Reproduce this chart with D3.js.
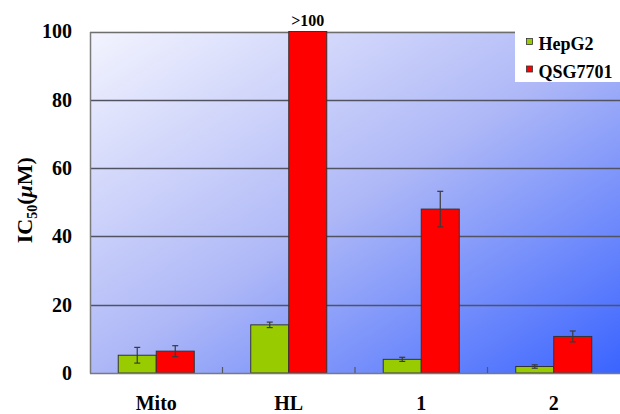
<!DOCTYPE html>
<html>
<head>
<meta charset="utf-8">
<script src="https://cdn.jsdelivr.net/npm/d3@7"></script>
<style>
  html, body { margin: 0; padding: 0; background: #fff; }
  svg { display: block; }
</style>
</head>
<body>
<svg id="chart" width="620" height="414"></svg>
<script>
// IC50 values (µM) for each compound on two cell lines
const categories = ["Mito", "HL", "1", "2"];
const seriesNames = ["HepG2", "QSG7701"];
const hepg2 = [5.2, 14.1, 4.0, 1.9];
const hepg2Err = [2.3, 0.8, 0.6, 0.5];
const qsg7701 = [6.4, 100, 48, 10.7];
const qsg7701Err = [1.6, 0, 5.2, 1.6];
const valueLabels = ["", ">100", "", ""];   // shown above the QSG7701 bar
const yTicks = [0, 20, 40, 60, 80, 100];
const colors = ["#99cc00", "#ff0000"];

const FONT = "\"Liberation Serif\", serif";

const svg = d3.select("#chart");
const W = 620, H = 414;
const margin = { left: 90, right: 0, top: 31.5, bottom: 41 };
const x0 = margin.left, x1 = W - margin.right;
const yTop = margin.top, yBot = H - margin.bottom;

const x = d3.scaleBand().domain(categories).range([x0, x1]).paddingInner(0).paddingOuter(0);
const xs = d3.scaleBand().domain(seriesNames).range([0, x.bandwidth()]).paddingInner(0).paddingOuter(0.743);
const y = d3.scaleLinear().domain([0, 100]).range([yBot, yTop]);

function serif(sel, size) {
  return sel.style("font-family", FONT).style("font-weight", "bold")
    .style("font-size", size + "px").attr("fill", "#000");
}

// plot background gradient
const defs = svg.append("defs");
const grad = defs.append("linearGradient").attr("id", "bg")
  .attr("x1", 0).attr("y1", 0).attr("x2", 1).attr("y2", 1);
grad.append("stop").attr("offset", "0").attr("stop-color", "#f3f4fe");
grad.append("stop").attr("offset", "0.5").attr("stop-color", "#aeb8f7");
grad.append("stop").attr("offset", "1").attr("stop-color", "#3a64ff");

svg.append("rect")
  .attr("x", x0).attr("y", yTop)
  .attr("width", x1 - x0).attr("height", yBot - yTop)
  .attr("fill", "url(#bg)");

// horizontal gridlines
svg.append("g").selectAll("line")
  .data(yTicks.filter(d => d > 0))
  .join("line")
  .attr("x1", x0).attr("x2", x1)
  .attr("y1", d => Math.round(y(d)) + 0.5).attr("y2", d => Math.round(y(d)) + 0.5)
  .attr("stroke", d => d === 100 ? "#6e6e6e" : "#515363")
  .attr("stroke-width", d => d === 100 ? 1.5 : 1.3);

// y axis: labels only, with a plain axis line
const yAxis = d3.axisLeft(y).tickValues(yTicks).tickSize(0).tickPadding(18);
const gy = svg.append("g").attr("transform", `translate(${x0},0)`).call(yAxis)
  .attr("font-family", null).attr("font-size", null);
gy.select(".domain").attr("stroke", "#7a7a7a").attr("stroke-width", 1.5);
serif(gy.selectAll("text"), 20);

// bars
const groups = svg.append("g").selectAll("g")
  .data(categories)
  .join("g")
  .attr("transform", d => `translate(${x(d)},0)`);

const barData = (c, i) => [
  { s: seriesNames[0], v: hepg2[i], e: hepg2Err[i], col: colors[0] },
  { s: seriesNames[1], v: qsg7701[i], e: qsg7701Err[i], col: colors[1] }
];

groups.each(function (c, i) {
  const g = d3.select(this);
  const data = barData(c, i);
  g.selectAll("rect").data(data).join("rect")
    .attr("x", d => xs(d.s))
    .attr("y", d => y(d.v))
    .attr("width", xs.bandwidth())
    .attr("height", d => y(0) - y(d.v))
    .attr("fill", d => d.col)
    .attr("stroke", "#333")
    .attr("stroke-width", 1);

  // error bars
  const eb = g.selectAll("g.err").data(data.filter(d => d.e > 0)).join("g").attr("class", "err");
  const cx = d => xs(d.s) + xs.bandwidth() / 2;
  eb.append("line")
    .attr("x1", cx).attr("x2", cx)
    .attr("y1", d => y(d.v + d.e)).attr("y2", d => y(d.v - d.e))
    .attr("stroke", "#3a3a3a").attr("stroke-width", 1.2);
  eb.append("line")
    .attr("x1", d => cx(d) - 3).attr("x2", d => cx(d) + 3)
    .attr("y1", d => y(d.v + d.e)).attr("y2", d => y(d.v + d.e))
    .attr("stroke", "#3a3a3a").attr("stroke-width", 1.2);
  eb.append("line")
    .attr("x1", d => cx(d) - 3).attr("x2", d => cx(d) + 3)
    .attr("y1", d => y(d.v - d.e)).attr("y2", d => y(d.v - d.e))
    .attr("stroke", "#3a3a3a").attr("stroke-width", 1.2);

  if (valueLabels[i]) {
    serif(g.append("text"), 16)
      .attr("x", xs(seriesNames[1]) + xs.bandwidth() / 2)
      .attr("y", y(qsg7701[i]) - 5.5)
      .attr("text-anchor", "middle")
      .text(valueLabels[i]);
  }
});

// x axis line with inward ticks between categories
svg.append("line")
  .attr("x1", x0).attr("x2", x1).attr("y1", yBot + 0.5).attr("y2", yBot + 0.5)
  .attr("stroke", "#7a7a7a").attr("stroke-width", 1.5);
svg.append("g").selectAll("line")
  .data(categories.slice(1))
  .join("line")
  .attr("x1", d => x(d)).attr("x2", d => x(d))
  .attr("y1", yBot).attr("y2", yBot - 6)
  .attr("stroke", "#55575f").attr("stroke-width", 1.2);

serif(svg.append("g").selectAll("text")
  .data(categories)
  .join("text"), 20)
  .attr("x", d => x(d) + x.bandwidth() / 2)
  .attr("y", 410)
  .attr("text-anchor", "middle")
  .text(d => d);

// y axis title: IC50(µM)
const yt = serif(svg.append("text"), 22)
  .attr("transform", `translate(32,${(yTop + yBot) / 2 - 2}) rotate(-90)`)
  .attr("text-anchor", "middle");
yt.append("tspan").text("IC");
yt.append("tspan").attr("dy", 5).style("font-size", "14px").text("50");
yt.append("tspan").attr("dy", -5).text("(");
yt.append("tspan").style("font-style", "italic").text("\u03bc");
yt.append("tspan").text("M)");

// legend
const lg = svg.append("g");
lg.append("rect").attr("x", 515).attr("y", 29).attr("width", 105).attr("height", 53).attr("fill", "#fff");
seriesNames.forEach((name, i) => {
  const yy = 38.5 + i * 27.5;
  lg.append("rect").attr("x", 526.5).attr("y", yy).attr("width", 6).attr("height", 6)
    .attr("fill", colors[i]).attr("stroke", "#333").attr("stroke-width", 0.8);
  serif(lg.append("text"), 18).attr("x", 538.5).attr("y", yy + 11.5)
    .text(name);
});
</script>
</body>
</html>
